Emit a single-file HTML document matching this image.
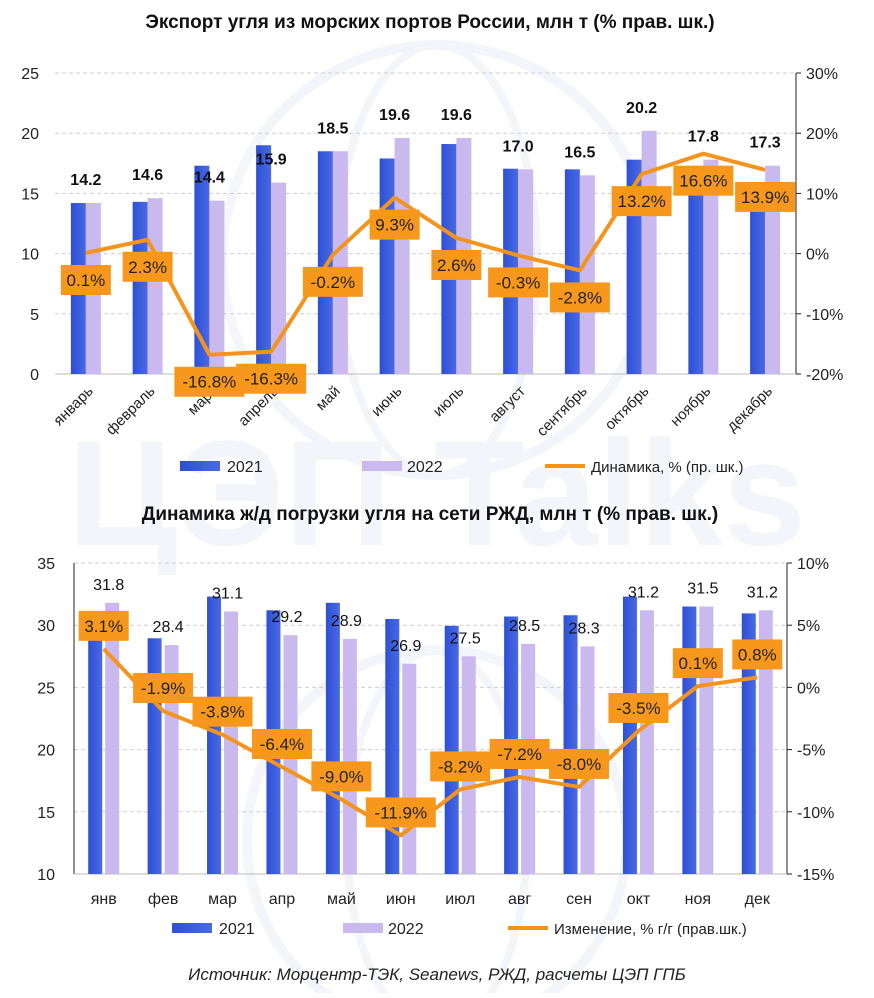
<!DOCTYPE html>
<html><head><meta charset="utf-8"><style>
body{margin:0;background:#fff;width:874px;height:993px;overflow:hidden;font-family:"Liberation Sans","DejaVu Sans",sans-serif}
svg text{font-family:"Liberation Sans","DejaVu Sans",sans-serif}
</style></head><body>
<svg id="s" width="874" height="993" xmlns="http://www.w3.org/2000/svg">
<defs>
<linearGradient id="g21" x1="0" x2="1"><stop offset="0" stop-color="#2c4fd6"/><stop offset="1" stop-color="#4a6ae3"/></linearGradient>
</defs>
<g opacity="0.35">
<circle cx="437" cy="260" r="215" fill="none" stroke="#dfe5f2" stroke-width="10"/>
<ellipse cx="437" cy="260" rx="100" ry="215" fill="none" stroke="#dfe5f2" stroke-width="8"/>
<circle cx="437" cy="840" r="190" fill="none" stroke="#dfe5f2" stroke-width="10"/>
<ellipse cx="437" cy="840" rx="90" ry="190" fill="none" stroke="#dfe5f2" stroke-width="8"/>
<text x="437" y="545" text-anchor="middle" font-size="150" font-weight="bold" fill="#dfe5f2">ЦЭП Talks</text>
</g>
<text x="430" y="28" text-anchor="middle" font-size="19" font-weight="bold" fill="#111">Экспорт угля из морских портов России, млн т (% прав. шк.)</text>
<text x="430" y="520" text-anchor="middle" font-size="19" font-weight="bold" fill="#111">Динамика ж/д погрузки угля на сети РЖД, млн т (% прав. шк.)</text>
<text x="437" y="980" text-anchor="middle" font-size="17" font-style="italic" fill="#222">Источник: Морцентр-ТЭК, Seanews, РЖД, расчеты ЦЭП ГПБ</text>
<g id="top"></g><g id="bot"></g>
</svg>
<script>
// Top chart data
const topCats=["январь","февраль","март","апрель","май","июнь","июль","август","сентябрь","октябрь","ноябрь","декабрь"];
const top2021=[14.2,14.3,17.3,19.0,18.5,17.9,19.1,17.05,17.0,17.8,15.3,15.2];
const top2022=[14.2,14.6,14.4,15.9,18.5,19.6,19.6,17.0,16.5,20.2,17.8,17.3];
const topPct=[0.1,2.3,-16.8,-16.3,-0.2,9.3,2.6,-0.3,-2.8,13.2,16.6,13.9];
const topLeftTicks=[0,5,10,15,20,25];
const topRightTicks=[-20,-10,0,10,20,30];
// Bottom chart data
const botCats=["янв","фев","мар","апр","май","июн","июл","авг","сен","окт","ноя","дек"];
const bot2021=[30.8,28.95,32.3,31.2,31.8,30.5,29.95,30.7,30.8,32.3,31.5,30.95];
const bot2022=[31.8,28.4,31.1,29.2,28.9,26.9,27.5,28.5,28.3,31.2,31.5,31.2];
const botPct=[3.1,-1.9,-3.8,-6.4,-9.0,-11.9,-8.2,-7.2,-8.0,-3.5,0.1,0.8];
const botLeftTicks=[10,15,20,25,30,35];
const botRightTicks=[-15,-10,-5,0,5,10];

const NS="http://www.w3.org/2000/svg";
function mk(p,tag,at,txt){const e=document.createElementNS(NS,tag);for(const k in at)e.setAttribute(k,at[k]);if(txt!==undefined)e.textContent=txt;p.appendChild(e);return e;}

function draw(g,o){
  const n=o.cats.length,step=(o.x1-o.x0)/n;
  const xc=i=>o.x0+step*(i+0.5);
  const yL=v=>o.yb+(v-o.lmin)/(o.lmax-o.lmin)*(o.yt-o.yb);
  const yR=v=>o.yb+(v-o.rmin)/(o.rmax-o.rmin)*(o.yt-o.yb);
  o.lt.forEach(t=>{
    if(t!==o.lmin){const l=mk(g,'line',{x1:o.x0,x2:o.x1,y1:yL(t),y2:yL(t),stroke:'#cfcfcf','stroke-dasharray':'4,3'});
    
    }
    const tx=mk(g,'text',{x:o.x0-o.lpad,y:yL(t)+6,'text-anchor':'end','font-size':16,fill:'#222'},t);
    
    
  });
  o.rt.forEach(t=>{
    mk(g,'line',{x1:o.x1,x2:o.x1+5,y1:yR(t),y2:yR(t),stroke:'#222'});
    const tx=mk(g,'text',{x:o.x1+10,y:yR(t)+6,'font-size':16,fill:'#222'},t+'%');
    
    
  });
  const ax=mk(g,'line',{x1:o.x1,x2:o.x1,y1:o.yt,y2:o.yb,stroke:'#222'});
  
  
  if(o.leftLine){
    const la=mk(g,'line',{x1:o.x0,x2:o.x0,y1:o.yt,y2:o.yb,stroke:'#222'});
    
    
  }
  const bx=mk(g,'line',{x1:o.x0,x2:o.x1,y1:o.yb,y2:o.yb,stroke:'#bbb'});
  
  
  for(let i=0;i<n;i++){
    const c=xc(i);
    const b1=mk(g,'rect',{x:c-o.bw-o.gap/2,y:yL(o.a[i]),width:o.bw,height:o.yb-yL(o.a[i]),fill:'url(#g21)'});
    
    
    const b2=mk(g,'rect',{x:c+o.gap/2,y:yL(o.b[i]),width:o.bw,height:o.yb-yL(o.b[i]),fill:'#c9b9ef'});
    
    
    const vl=mk(g,'text',{x:c+o.vdx,y:yL(o.b[i])-o.vdy,'text-anchor':'middle','font-size':16,'font-weight':o.vbold,fill:'#111'},o.b[i].toFixed(1));
    
    
    let lab;
    if(o.rot){lab=mk(g,'text',{x:c+8,y:o.yb+18,'text-anchor':'end','font-size':15,fill:'#222',transform:`rotate(-45 ${c+8} ${o.yb+18})`},o.cats[i]);}
    else{lab=mk(g,'text',{x:c,y:o.yb+30,'text-anchor':'middle','font-size':16,fill:'#222'},o.cats[i]);}
    
    
  }
  const pts=o.p.map((v,i)=>xc(i)+','+yR(v)).join(' ');
  const pl=mk(g,'polyline',{points:pts,fill:'none',stroke:'#f5941d','stroke-width':4,'stroke-linejoin':'round'});
  
  
  o.p.forEach((v,i)=>{
    const c=xc(i),cy=yR(v)+o.ldy,s=v.toFixed(1)+'%',w=s.length*10+10;
    const r=mk(g,'rect',{x:c-w/2,y:cy-15,width:w,height:30,fill:'#f7981d'});
    
    
    const t=mk(g,'text',{x:c,y:cy+6,'text-anchor':'middle','font-size':17,fill:'#222'},s);
    
    
  });
  const L=o.leg;
  const l1=mk(g,'rect',{x:L[0],y:L[3]-5,width:40,height:10,fill:'url(#g21)'});
  
  
  const t1=mk(g,'text',{x:L[0]+47,y:L[3]+6,'font-size':16,fill:'#222'},'2021');
  
  
  const l2=mk(g,'rect',{x:L[1],y:L[3]-5,width:40,height:10,fill:'#c9b9ef'});
  
  
  const t2=mk(g,'text',{x:L[1]+45,y:L[3]+6,'font-size':16,fill:'#222'},'2022');
  
  
  const l3=mk(g,'line',{x1:L[2],x2:L[2]+40,y1:L[3],y2:L[3],stroke:'#f5941d','stroke-width':4});
  
  
  const t3=mk(g,'text',{x:L[2]+46,y:L[3]+6,'font-size':15,fill:'#222'},o.legText);
  
  
}
draw(document.getElementById('top'),{cats:topCats,a:top2021,b:top2022,p:topPct,lt:topLeftTicks,rt:topRightTicks,
  x0:55,x1:796,yt:73,yb:374,lmin:0,lmax:25,rmin:-20,rmax:30,lpad:16,bw:15,gap:0,vdx:0,vdy:18,vbold:'bold',ldy:27,rot:true,leftLine:false,
  leg:[180,362,545,466],legText:'Динамика, % (пр. шк.)'});
draw(document.getElementById('bot'),{cats:botCats,a:bot2021,b:bot2022,p:botPct,lt:botLeftTicks,rt:botRightTicks,
  x0:74,x1:787,yt:563,yb:874,lmin:10,lmax:35,rmin:-15,rmax:10,lpad:19,bw:14,gap:3,vdx:5,vdy:13,vbold:'normal',ldy:-23,rot:false,leftLine:true,
  leg:[172,343,508,928],legText:'Изменение, % г/г (прав.шк.)'});
</script>
</body></html>
